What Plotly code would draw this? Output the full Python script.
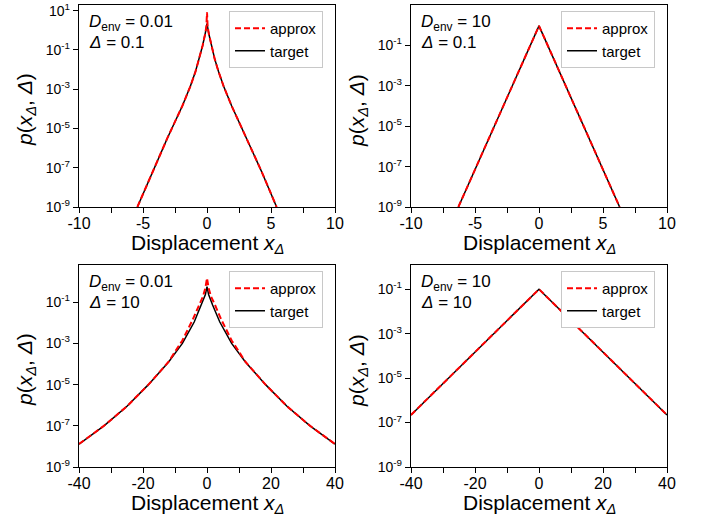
import plotly.graph_objects as go

W, H = 712, 521

# ---------------- data ----------------
# Panel A: D_env = 0.01, Delta = 0.1
a_target_x = [-5.44, -4.27, -3.1, -1.93, -1.3, -0.9, -0.6, -0.35, -0.15, 0.0,
              0.15, 0.35, 0.6, 0.9, 1.3, 1.93, 3.1, 4.27, 5.44]
a_target_y = [1e-9, 6.3e-8, 3.2e-6, 1.4e-4, 1.4e-3, 7.9e-3, 3.5e-2, 0.16, 0.63, 2.2,
              0.63, 0.16, 3.5e-2, 7.9e-3, 1.4e-3, 1.4e-4, 3.2e-6, 6.3e-8, 1e-9]
a_approx_x = [-5.44, -4.27, -3.1, -1.93, -1.3, -0.9, -0.6, -0.35, -0.15, -0.05, 0.0,
              0.05, 0.15, 0.35, 0.6, 0.9, 1.3, 1.93, 3.1, 4.27, 5.44]
a_approx_y = [1e-9, 6.3e-8, 3.2e-6, 1.4e-4, 1.4e-3, 7.9e-3, 3.5e-2, 0.16, 0.63, 1.5, 8.3,
              1.5, 0.63, 0.16, 3.5e-2, 7.9e-3, 1.4e-3, 1.4e-4, 3.2e-6, 6.3e-8, 1e-9]

# Panel B: D_env = 10, Delta = 0.1
b_target_x = [-6.3, 0.0, 6.3]
b_target_y = [1e-9, 0.93, 1e-9]
b_approx_x = [-6.3, 0.0, 6.3]
b_approx_y = [1e-9, 0.93, 1e-9]

# Panel C: D_env = 0.01, Delta = 10
c_target_x = [-40, -32.2, -25, -18.3, -12, -7.7, -4, -1.75, -0.5, 0,
              0.5, 1.75, 4, 7.7, 12, 18.3, 25, 32.2, 40]
c_target_y = [1.3e-8, 1e-7, 8.9e-7, 1e-5, 1.26e-4, 1e-3, 1.1e-2, 7.4e-2, 0.24, 0.58,
              0.24, 7.4e-2, 1.1e-2, 1e-3, 1.26e-4, 1e-5, 8.9e-7, 1e-7, 1.3e-8]
c_approx_x = [-40, -32.2, -25, -18.3, -12, -7.7, -4.5, -2.5, -1.2, -0.5, 0,
              0.5, 1.2, 2.5, 4.5, 7.7, 12, 18.3, 25, 32.2, 40]
c_approx_y = [1.3e-8, 1e-7, 8.9e-7, 1e-5, 1.3e-4, 1.4e-3, 1.4e-2, 7.4e-2, 0.2, 0.5, 1.48,
              0.5, 0.2, 7.4e-2, 1.4e-2, 1.4e-3, 1.3e-4, 1e-5, 8.9e-7, 1e-7, 1.3e-8]

# Panel D: D_env = 10, Delta = 10
d_target_x = [-40, 0, 40]
d_target_y = [2.2e-7, 0.1, 2.2e-7]
d_approx_x = [-40, 0, 40]
d_approx_y = [2.2e-7, 0.1, 2.2e-7]

top_xticks = [-10, -7.5, -5, -2.5, 0, 2.5, 5, 7.5, 10]
top_xlabels = ["-10", "", "-5", "", "0", "", "5", "", "10"]
bot_xticks = [-40, -30, -20, -10, 0, 10, 20, 30, 40]
bot_xlabels = ["-40", "", "-20", "", "0", "", "20", "", "40"]
y_ticks_a = [1e1, 1e-1, 1e-3, 1e-5, 1e-7, 1e-9]
y_labels_a = ["10<sup>1</sup>", "10<sup>-1</sup>", "10<sup>-3</sup>", "10<sup>-5</sup>",
              "10<sup>-7</sup>", "10<sup>-9</sup>"]
y_ticks = [1e-1, 1e-3, 1e-5, 1e-7, 1e-9]
y_labels = ["10<sup>-1</sup>", "10<sup>-3</sup>", "10<sup>-5</sup>",
            "10<sup>-7</sup>", "10<sup>-9</sup>"]

denv_labels = ["0.01", "10", "0.01", "10"]
delta_labels = ["0.1", "0.1", "10", "10"]

# ---------------- layout geometry (window pixels) ----------------
boxes = [(79, 335, 5, 207), (411, 667, 5, 207), (79, 335, 265, 467), (411, 667, 265, 467)]
yranges = [[-9, 1.29], [-9, 1.0], [-9, 0.81], [-9, 0.09]]
xranges = [[-10, 10], [-10, 10], [-40, 40], [-40, 40]]
data = [(a_target_x, a_target_y, a_approx_x, a_approx_y),
        (b_target_x, b_target_y, b_approx_x, b_approx_y),
        (c_target_x, c_target_y, c_approx_x, c_approx_y),
        (d_target_x, d_target_y, d_approx_x, d_approx_y)]


def px(x):
    return x / W


def py(y):
    return (H - y) / H


FONT = "Liberation Sans, Arial, Helvetica, sans-serif"
fig = go.Figure()
layout = dict(width=W, height=H, template="none",
              margin=dict(l=0, r=0, t=0, b=0, pad=0, autoexpand=False),
              paper_bgcolor="white", plot_bgcolor="white",
              font=dict(family=FONT, color="black"), annotations=[])

for i, (x0, x1, y0, y1) in enumerate(boxes):
    n = "" if i == 0 else str(i + 1)
    leg = "legend" + n
    tx, ty, ax_, ay = data[i]
    fig.add_trace(go.Scatter(x=tx, y=ty, mode="lines", name="target",
                             line=dict(color="black", width=1.5),
                             xaxis="x" + n, yaxis="y" + n, legend=leg, legendrank=2))
    fig.add_trace(go.Scatter(x=ax_, y=ay, mode="lines", name="approx",
                             line=dict(color="#ff0000", width=2, dash="6px,3px"),
                             xaxis="x" + n, yaxis="y" + n, legend=leg, legendrank=1))
    top = i < 2
    layout["xaxis" + n] = dict(
        domain=[px(x0), px(x1)], anchor="y" + n, range=xranges[i], automargin=False,
        tickmode="array", tickvals=top_xticks if top else bot_xticks,
        ticktext=top_xlabels if top else bot_xlabels,
        ticks="outside", ticklen=5, tickwidth=1, tickcolor="black",
        ticklabelstandoff=-3, ticklabeloverflow="allow",
        showline=True, linecolor="black", linewidth=1.3, mirror=True,
        showgrid=False, zeroline=False, tickfont=dict(size=16))
    layout["yaxis" + n] = dict(
        domain=[py(y1), py(y0)], anchor="x" + n, type="log",
        range=yranges[i], tickmode="array", automargin=False,
        tickvals=y_ticks_a if i == 0 else y_ticks,
        ticktext=y_labels_a if i == 0 else y_labels,
        ticks="outside", ticklen=5, tickwidth=1, tickcolor="black",
        ticklabeloverflow="allow",
        showline=True, linecolor="black", linewidth=1.3, mirror=True,
        showgrid=False, zeroline=False, tickfont=dict(size=14))
    layout[leg] = dict(x=px(x1 - 106), y=py(y0 + 6), xanchor="left", yanchor="top",
                       bgcolor="white", bordercolor="#c8c8c8", borderwidth=1,
                       font=dict(size=15, family=FONT), traceorder="normal",
                       itemwidth=30, tracegroupgap=0)
    # panel labels
    layout["annotations"].append(dict(
        xref="paper", yref="paper", x=px(x0 + 8), y=py(y0 + 18),
        xanchor="left", yanchor="middle", showarrow=False,
        text="<i>D</i><sub>env</sub> = " + denv_labels[i], font=dict(size=17)))
    layout["annotations"].append(dict(
        xref="paper", yref="paper", x=px(x0 + 8), y=py(y0 + 38),
        xanchor="left", yanchor="middle", showarrow=False,
        text="<i>Δ</i> = " + delta_labels[i], font=dict(size=17)))
    # axis titles
    layout["annotations"].append(dict(
        xref="paper", yref="paper", x=px((x0 + x1) / 2), y=py(y1 + 37),
        xanchor="center", yanchor="middle", showarrow=False,
        text="Displacement <i>x</i><sub><i>Δ</i></sub>", font=dict(size=21)))
    layout["annotations"].append(dict(
        xref="paper", yref="paper", x=px(x0 - 53), y=py((y0 + y1) / 2 + 4),
        xanchor="center", yanchor="middle", showarrow=False, textangle=-90,
        text="<i>p</i>(<i>x</i><sub><i>Δ</i></sub>, <i>Δ</i>)", font=dict(size=21)))

fig.update_layout(**layout)
# remove the default 8px page margin so the figure fills the window exactly
fig.write_html("out.html", config={"displayModeBar": False},
               post_script="document.body.style.margin='0px';")
